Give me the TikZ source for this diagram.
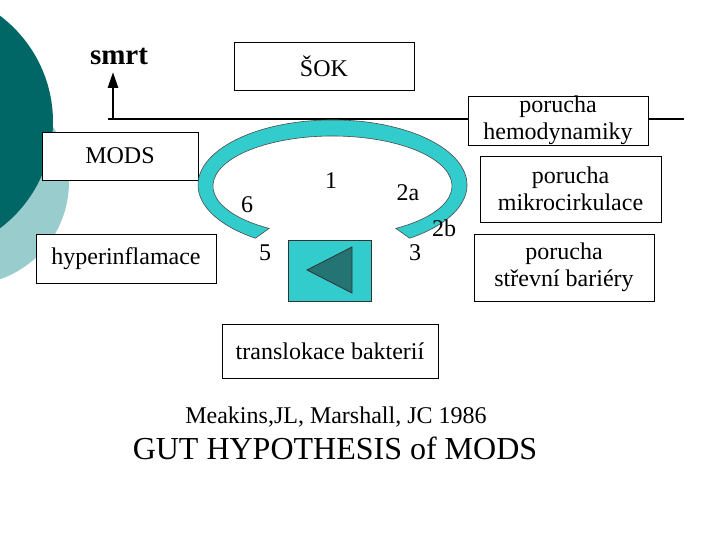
\documentclass[tikz,border=0pt]{standalone}
\usepackage{fontspec}
\setmainfont{Liberation Serif}
\usetikzlibrary{arrows.meta}
\definecolor{darkteal}{RGB}{0,102,102}
\definecolor{lightteal}{RGB}{153,204,204}
\definecolor{cyanband}{RGB}{51,204,204}
\definecolor{tridark}{RGB}{36,116,116}
\begin{document}
\begin{tikzpicture}[x=1pt,y=-1pt,
  txt/.style={font=\fontsize{24}{27}\selectfont, inner sep=0pt, align=center},
  box/.style={txt, draw=black, line width=0.8pt, fill=white},
  band/.style={draw=black!70, line width=0.6pt, fill=cyanband},
  thickline/.style={line width=2.8pt}]
\useasboundingbox (0,0) rectangle (720,540);
% background circles
\begin{scope}
  \clip (0,0) rectangle (720,540);
  \fill[lightteal] (-34,182) circle[radius=103];
  \fill[darkteal] (-80,122) circle[radius=133];
\end{scope}
% main line and arrow
\coordinate (lineL) at (108,119);
\coordinate (lineR) at (684,119);
\coordinate (corner) at (113,120);
\coordinate (tip) at (113,72);
\draw[thickline] (lineL) -- (lineR);
\draw[thickline, -{Triangle[width=10pt,length=16pt]}] (corner) -- (tip);
\node[font=\fontsize{29}{31}\selectfont\bfseries, inner sep=0pt, anchor=base] (smrt) at (119,65) {smrt};
% boxes
\node[box, minimum width=180pt, minimum height=48pt] (sok) at (324,66) {ŠOK};
\node[box, minimum width=180pt, minimum height=47pt] (hemo) at (558,120.5) {porucha\\hemodynamiky};
\node[box, minimum width=156pt, minimum height=48pt] (mods) at (120,156) {MODS};
\node[box, minimum width=180pt, minimum height=49pt] (hyper) at (126,258.5) {hyperinflamace};
\node[box, minimum width=181pt, minimum height=66pt] (mikro) at (570.5,189) {porucha\\mikrocirkulace};
\node[box, minimum width=180pt, minimum height=67pt] (strev) at (564,267.5) {porucha\\střevní bariéry};
\node[box, minimum width=216pt, minimum height=54pt] (trans) at (330,351) {translokace bakterií};
% cyclic band
\draw[band] (255.4,238.2) arc[start angle=125, end angle=415, x radius=134.5, y radius=65]
  -- (395.8,228.4) arc[start angle=58, end angle=-238, x radius=119.5, y radius=50] -- cycle;
% button with triangle
\node[draw=black!80, line width=0.8pt, fill=cyanband, minimum width=83pt, minimum height=61pt, inner sep=0pt] (sq) at (329.5,270.5) {};
\draw[draw=black!80, line width=0.8pt, fill=tridark] (307,270) -- (352,247) -- (352,293) -- cycle;
% numbers
\node[txt, anchor=base] (n1) at (331,189) {1};
\node[txt, anchor=base] (n2a) at (408,200.7) {2a};
\node[txt, anchor=base] (n6) at (247,212.7) {6};
\node[txt, anchor=base] (n5) at (265,260) {5};
\node[txt, anchor=base] (n3) at (415,260) {3};
\node[txt, anchor=base] (n2b) at (444,236.7) {2b};
% captions
\node[txt, anchor=base] (ref) at (336,423) {Meakins,JL, Marshall, JC 1986};
\node[font=\fontsize{32}{36}\selectfont, inner sep=0pt, anchor=base] (title) at (335,459) {GUT HYPOTHESIS of MODS};
\end{tikzpicture}
\end{document}
